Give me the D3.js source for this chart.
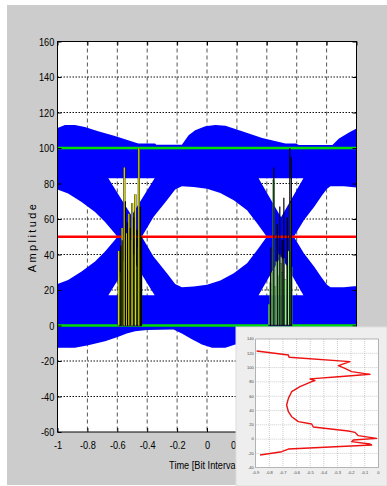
<!DOCTYPE html>
<html>
<head>
<meta charset="utf-8">
<script src="https://cdn.jsdelivr.net/npm/d3@7"></script>
<style>
body { margin: 0; background: #fff; }
svg { display: block; }
</style>
</head>
<body>
<svg width="387" height="486"></svg>
<script>
// ---- data ----
var xTicks = [-1, -0.8, -0.6, -0.4, -0.2, 0, 0.2, 0.4, 0.6, 0.8, 1];
var yTicks = [160, 140, 120, 100, 80, 60, 40, 20, 0, -20, -40, -60];

// outer envelope of the eye traces [time, amplitude]
var envTop = [[-1, 111.3], [-0.95, 112.9], [-0.884, 112.9], [-0.817, 111.9], [-0.728, 109.5], [-0.616, 106.8],
    [-0.481, 103.1], [-0.459, 102.5], [-0.347, 102.5], [-0.34, 101.8], [-0.168, 101.8], [-0.123, 107.2],
    [-0.079, 110], [-0.011, 112.3], [0.056, 112.9], [0.123, 112.5], [0.235, 109.5], [0.369, 105.7],
    [0.525, 102.5], [0.593, 102.5], [0.615, 101.7], [0.839, 101.7], [0.883, 105.4], [0.95, 108.7], [1, 111]];
var envBottom = [[-1, -12.6], [-0.884, -12.6], [-0.795, -11.1], [-0.682, -8.9], [-0.593, -6.4], [-0.537, -4.5],
    [-0.481, -3.2], [-0.403, -2.6], [-0.224, -2.3], [-0.168, -4.5], [-0.101, -7.7], [-0.034, -10.7],
    [0.034, -12.6], [0.123, -12.5], [0.235, -9.5], [0.369, -5.7], [0.525, -2.5], [0.615, -1.7],
    [0.83, -1.8], [0.883, -5.4], [0.95, -8.7], [1, -11]];

// eye openings (white holes)
var eyeLeft = [[-1, 76.6], [-0.929, 74.3], [-0.839, 69.6], [-0.749, 63.9], [-0.682, 58.3], [-0.615, 51.7], [-0.6, 50],
    [-0.615, 48.3], [-0.682, 41.7], [-0.749, 36.1], [-0.839, 30.4], [-0.929, 25.7], [-1, 23.4]];
var eyeMid = [[-0.436, 50], [-0.358, 61.1], [-0.268, 70.5], [-0.213, 76.6], [-0.168, 78.4], [-0.09, 78], [0, 77.1],
    [0.089, 74.7], [0.179, 70.5], [0.268, 64.9], [0.336, 57.4], [0.4, 50], [0.336, 42.6], [0.268, 35.1],
    [0.179, 29.5], [0.089, 25.3], [0, 22.9], [-0.09, 22], [-0.168, 21.6], [-0.213, 23.4], [-0.268, 29.5], [-0.358, 38.9]];
var eyeRight = [[0.581, 50], [0.648, 59.3], [0.716, 66.8], [0.77, 73.4], [0.803, 77.1], [0.826, 78.4], [0.916, 78.4],
    [1, 77.7], [1, 22.3], [0.916, 21.6], [0.826, 21.6], [0.803, 22.9], [0.77, 26.6], [0.716, 33.2], [0.648, 40.7]];
var triangles = [
    [[-0.66, 83], [-0.35, 83], [-0.505, 62]],
    [[-0.66, 17], [-0.35, 17], [-0.505, 38]],
    [[0.345, 83], [0.645, 83], [0.495, 61]],
    [[0.345, 17], [0.645, 17], [0.495, 39]]
];

// jitter histogram bars
var leftBarT = [-0.59, -0.58, -0.57, -0.56, -0.55, -0.54, -0.53, -0.52, -0.51, -0.50, -0.49, -0.48, -0.47, -0.46, -0.45, -0.44];
var leftBarH = [14, 30, 26, 36, 22, 38, 30, 42, 33, 27, 40, 35, 31, 44, 38, 29];
var rightBarT = [0.415, 0.425, 0.435, 0.445, 0.455, 0.465, 0.475, 0.485, 0.495, 0.505, 0.515, 0.525, 0.535, 0.545, 0.555, 0.565];
var rightBarH = [12, 24, 30, 82, 22, 36, 28, 40, 35, 30, 38, 26, 34, 42, 69, 33];

var yellowT = [-0.591, -0.568, -0.553, -0.539, -0.523, -0.511, -0.501, -0.479, -0.456];
var yellowH = [42, 55, 89, 52, 63, 48, 69, 74, 100];
var blackT = [-0.577, -0.568, -0.546, -0.532, -0.513, -0.49, -0.468, -0.446, -0.438,
    0.425, 0.447, 0.47, 0.487, 0.503, 0.514, 0.537, 0.554, 0.564];
var blackH = [45, 48, 70, 58, 55, 61, 54, 67, 50,
    44, 89, 57, 67, 48, 72, 61, 100, 95];

// inset curve [x, amplitude]
var insetXTicks = [-0.9, -0.8, -0.7, -0.6, -0.5, -0.4, -0.3, -0.2, -0.1, 0];
var insetYTicks = [140, 120, 100, 80, 60, 40, 20, 0, -20, -40];
var insetCurve = [[-0.893, 123.2], [-0.66, 117.6], [-0.655, 114.4], [-0.208, 108.3], [-0.293, 102.7], [-0.245, 99],
    [-0.196, 94.3], [-0.061, 90.6], [-0.293, 87.3], [-0.452, 85], [-0.501, 84], [-0.465, 81.7], [-0.489, 80.3],
    [-0.575, 73.3], [-0.636, 66.3], [-0.66, 57], [-0.673, 47.7], [-0.66, 38.3], [-0.636, 31.3], [-0.587, 24.4],
    [-0.489, 21.1], [-0.477, 16.9], [-0.22, 11.3], [-0.171, 9.4], [-0.147, 4.8], [-0.012, 1], [-0.183, -1.3],
    [-0.196, -3.6], [-0.061, -6.9], [-0.049, -8.3], [-0.66, -13.9], [-0.709, -17.6], [-0.868, -22.3]];

// ---- drawing ----
var svg = d3.select("svg");

svg.append("rect")
    .attr("x", 7).attr("y", 5)
    .attr("width", 380).attr("height", 480)
    .attr("fill", "#cccccc");

var pLeft = 57.5, pRight = 356.5, pTop = 41.5, pBottom = 432;

var x = d3.scaleLinear().domain([-1, 1]).range([pLeft, pRight]);
var y = d3.scaleLinear().domain([-60, 160]).range([pBottom, pTop]);

svg.append("defs").append("clipPath").attr("id", "plotclip")
    .append("rect")
    .attr("x", pLeft).attr("y", pTop)
    .attr("width", pRight - pLeft).attr("height", pBottom - pTop);

svg.append("rect")
    .attr("x", pLeft).attr("y", pTop)
    .attr("width", pRight - pLeft).attr("height", pBottom - pTop)
    .attr("fill", "white");

// grid
var grid = svg.append("g");
grid.selectAll("line.v")
    .data(xTicks.slice(1, -1))
    .enter().append("line")
    .attr("x1", function (d) { return x(d); })
    .attr("x2", function (d) { return x(d); })
    .attr("y1", pTop).attr("y2", pBottom)
    .attr("stroke", "#555")
    .attr("stroke-width", 1)
    .attr("stroke-dasharray", "4,3");
grid.selectAll("line.h")
    .data(yTicks.slice(1, -1))
    .enter().append("line")
    .attr("x1", pLeft).attr("x2", pRight)
    .attr("y1", function (d) { return y(d); })
    .attr("y2", function (d) { return y(d); })
    .attr("stroke", "#111")
    .attr("stroke-width", 1)
    .attr("stroke-dasharray", "1.5,1.5");

var line = d3.line()
    .x(function (d) { return x(d[0]); })
    .y(function (d) { return y(d[1]); });

var plot = svg.append("g").attr("clip-path", "url(#plotclip)");

// blue eye traces with the openings cut out
var outer = envTop.concat(envBottom.slice().reverse());
var holes = [eyeLeft, eyeMid, eyeRight].concat(triangles);
var blueD = line(outer) + "Z";
holes.forEach(function (h) { blueD += line(h) + "Z"; });

plot.append("path")
    .attr("d", blueD)
    .attr("fill", "#0000ff")
    .attr("fill-rule", "evenodd");

// green reference lines at 0 and 100
plot.selectAll("line.ref")
    .data([0, 100])
    .enter().append("line")
    .attr("x1", pLeft).attr("x2", pRight)
    .attr("y1", function (d) { return y(d); })
    .attr("y2", function (d) { return y(d); })
    .attr("stroke", "#00dd00")
    .attr("stroke-width", 2.6);

// histogram bars
var bw = x(0.01) - x(0);
function bars(ts, hs) {
    plot.append("g").selectAll("rect")
        .data(ts.map(function (t, i) { return [t, hs[i]]; }))
        .enter().append("rect")
        .attr("x", function (d) { return x(d[0]) - bw / 2; })
        .attr("y", function (d) { return y(d[1]); })
        .attr("width", bw)
        .attr("height", function (d) { return y(0) - y(d[1]); })
        .attr("fill", "#90ee88")
        .attr("stroke", "#2f6b2f")
        .attr("stroke-width", 0.4);
}
bars(leftBarT, leftBarH);
bars(rightBarT, rightBarH);

// dark base under the bars
[leftBarT, rightBarT].forEach(function (ts) {
    plot.append("line")
        .attr("x1", x(ts[0]) - bw / 2).attr("x2", x(ts[ts.length - 1]) + bw / 2)
        .attr("y1", y(0)).attr("y2", y(0))
        .attr("stroke", "#1a1a60")
        .attr("stroke-width", 1.5);
});

// red threshold
plot.append("line")
    .attr("x1", pLeft).attr("x2", pRight)
    .attr("y1", y(50)).attr("y2", y(50))
    .attr("stroke", "#ff0000")
    .attr("stroke-width", 2.4);

// spikes
function spikes(ts, hs, color, w) {
    plot.append("g").selectAll("line")
        .data(ts.map(function (t, i) { return [t, hs[i]]; }))
        .enter().append("line")
        .attr("x1", function (d) { return x(d[0]); })
        .attr("x2", function (d) { return x(d[0]); })
        .attr("y1", y(0))
        .attr("y2", function (d) { return y(d[1]); })
        .attr("stroke", color)
        .attr("stroke-width", w);
}
spikes(yellowT, yellowH, "#333300", 2.2);
spikes(yellowT, yellowH, "#e2e200", 1.1);
spikes(blackT, blackH, "#000", 1.2);

// frame and ticks
svg.append("rect")
    .attr("x", pLeft).attr("y", pTop)
    .attr("width", pRight - pLeft).attr("height", pBottom - pTop)
    .attr("fill", "none")
    .attr("stroke", "#000")
    .attr("stroke-width", 1);

var fmt = function (d) { return String(d); };
svg.append("g")
    .attr("transform", "translate(" + pLeft + ",0)")
    .call(d3.axisLeft(y).tickValues(yTicks).tickSize(-4).tickPadding(4).tickFormat(fmt));
svg.append("g")
    .attr("transform", "translate(0," + pBottom + ")")
    .call(d3.axisBottom(x).tickValues(xTicks).tickSize(-4).tickPadding(8.5).tickFormat(fmt));
svg.append("g")
    .attr("transform", "translate(" + pRight + ",0)")
    .call(d3.axisRight(y).tickValues(yTicks).tickSize(-4).tickFormat(""));
svg.append("g")
    .attr("transform", "translate(0," + pTop + ")")
    .call(d3.axisTop(x).tickValues(xTicks).tickSize(-4).tickFormat(""));

svg.selectAll(".domain").remove();
svg.selectAll(".tick line").attr("stroke", "#000");
// narrow look of the tick labels
svg.selectAll(".tick text")
    .attr("font-family", "Liberation Sans, Arial, sans-serif")
    .attr("font-size", 11.5)
    .attr("fill", "#000")
    .attr("transform", "scale(0.8,1)");

svg.append("text")
    .attr("transform", "translate(35.5,237) rotate(-90)")
    .attr("text-anchor", "middle")
    .attr("font-family", "Liberation Sans, Arial, sans-serif")
    .attr("font-size", 11)
    .attr("letter-spacing", 2.4)
    .text("Amplitude");

svg.append("text")
    .attr("transform", "translate(" + x(0) + ",469) scale(0.8,1)")
    .attr("text-anchor", "middle")
    .attr("font-family", "Liberation Sans, Arial, sans-serif")
    .attr("font-size", 11.5)
    .text("Time [Bit Intervals]");

// ---- inset ----
var inset = svg.append("g");
inset.append("rect")
    .attr("x", 236).attr("y", 327)
    .attr("width", 151).attr("height", 159)
    .attr("fill", "#eeeeee")
    .attr("stroke", "#dddddd");

var xi = d3.scaleLinear().domain([-0.9, 0]).range([255.7, 378.3]);
var yi = d3.scaleLinear().domain([-40, 140]).range([467.7, 339]);

inset.append("rect")
    .attr("x", xi(-0.9)).attr("y", yi(140))
    .attr("width", xi(0) - xi(-0.9)).attr("height", yi(-40) - yi(140))
    .attr("fill", "#fff")
    .attr("stroke", "#888")
    .attr("stroke-width", 0.6);

inset.selectAll("line.iv")
    .data(insetXTicks.slice(1, -1))
    .enter().append("line")
    .attr("x1", function (d) { return xi(d); })
    .attr("x2", function (d) { return xi(d); })
    .attr("y1", yi(140)).attr("y2", yi(-40))
    .attr("stroke", "#999")
    .attr("stroke-width", 0.5)
    .attr("stroke-dasharray", "1,1");
inset.selectAll("line.ih")
    .data(insetYTicks.slice(1, -1))
    .enter().append("line")
    .attr("x1", xi(-0.9)).attr("x2", xi(0))
    .attr("y1", function (d) { return yi(d); })
    .attr("y2", function (d) { return yi(d); })
    .attr("stroke", "#999")
    .attr("stroke-width", 0.5)
    .attr("stroke-dasharray", "1,1");

inset.selectAll("text.iy")
    .data(insetYTicks)
    .enter().append("text")
    .attr("x", xi(-0.9) - 2)
    .attr("y", function (d) { return yi(d) + 1.3; })
    .attr("text-anchor", "end")
    .attr("font-family", "Liberation Sans, Arial, sans-serif")
    .attr("font-size", 4)
    .attr("fill", "#444")
    .text(function (d) { return d; });
inset.selectAll("text.ix")
    .data(insetXTicks)
    .enter().append("text")
    .attr("x", function (d) { return xi(d); })
    .attr("y", yi(-40) + 6.5)
    .attr("text-anchor", "middle")
    .attr("font-family", "Liberation Sans, Arial, sans-serif")
    .attr("font-size", 4)
    .attr("fill", "#444")
    .text(function (d) { return d; });

var iline = d3.line()
    .x(function (d) { return xi(d[0]); })
    .y(function (d) { return yi(d[1]); });
inset.append("path")
    .attr("d", iline(insetCurve))
    .attr("fill", "none")
    .attr("stroke", "#ee1111")
    .attr("stroke-width", 1.4)
    .attr("stroke-linejoin", "round");
</script>
</body>
</html>
